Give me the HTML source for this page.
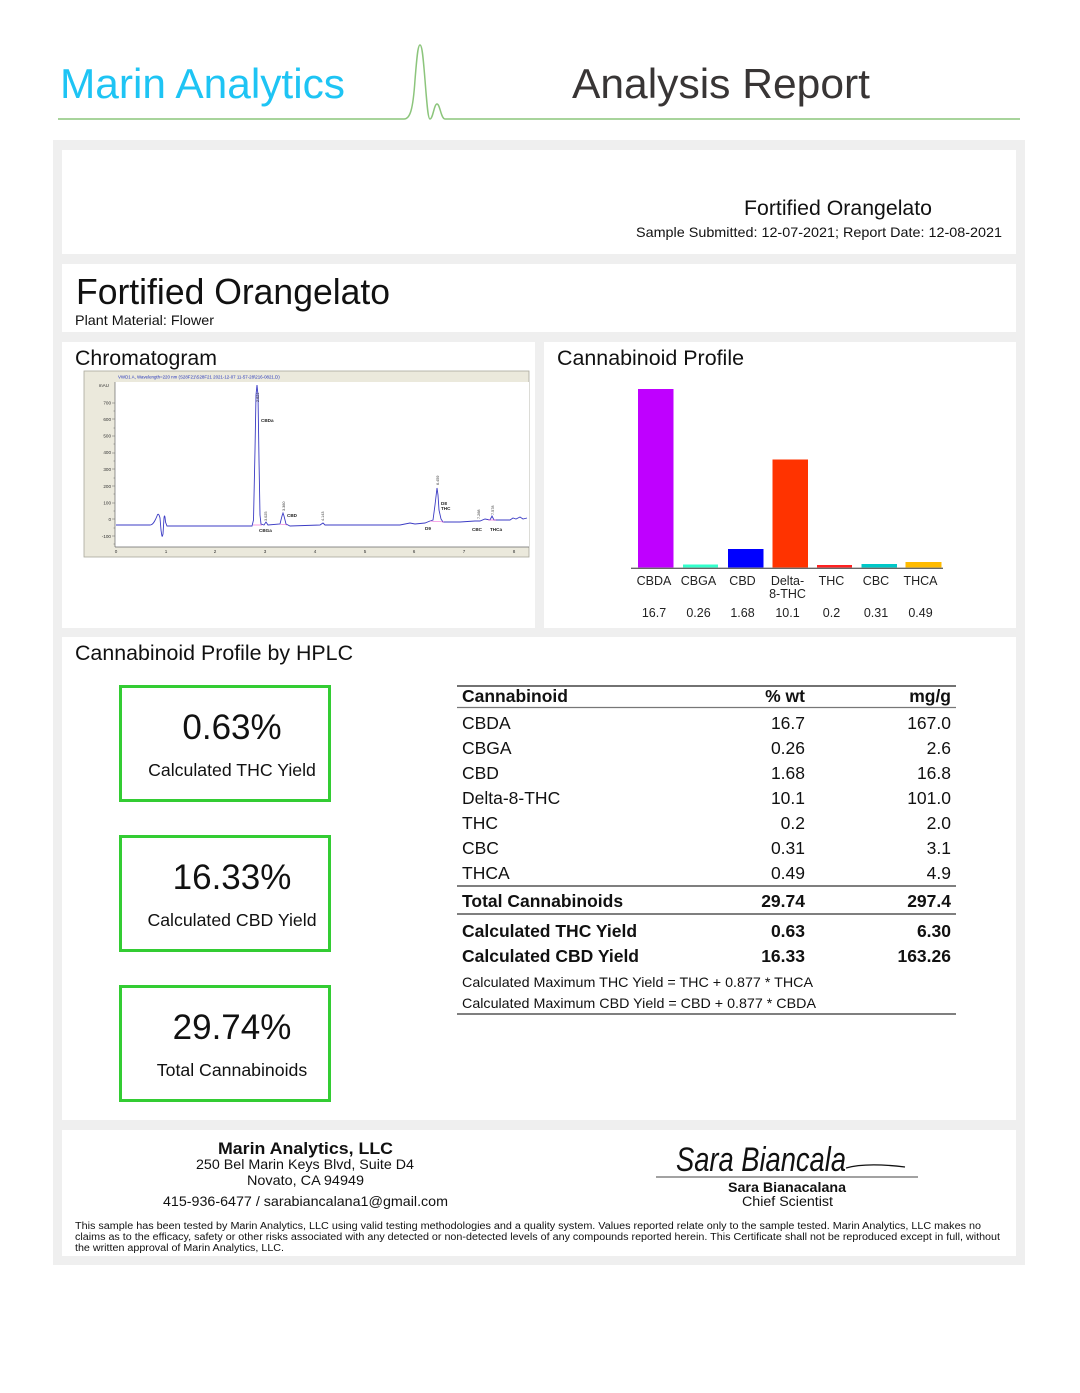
<!DOCTYPE html>
<html><head><meta charset="utf-8"><style>
html,body{margin:0;padding:0;background:#fff;}
svg{display:block;}
text{font-family:"Liberation Sans",Arial,sans-serif;}
</style></head><body>
<svg width="1080" height="1393" viewBox="0 0 1080 1393" xmlns="http://www.w3.org/2000/svg">
<rect width="1080" height="1393" fill="#fff"/>
<!-- header -->
<text x="60" y="98" font-size="42" fill="#1ec4f4" textLength="285" lengthAdjust="spacingAndGlyphs">Marin Analytics</text>
<text x="572" y="98" font-size="42" fill="#383535" textLength="298" lengthAdjust="spacingAndGlyphs">Analysis Report</text>
<path d="M58 119 L404 119 C410 119 413 110 415 80 C417 55 418 45 420 45 C422 45 423 55 425 80 C427 105 428 119 430 119 C433 119 434 104 437 104 C440 104 441 119 445 119 L1020 119" fill="none" stroke="#8cc57c" stroke-width="1.5"/>

<!-- grey background -->
<rect x="53" y="140" width="972" height="1125" fill="#efefef"/>
<rect x="62" y="150" width="954" height="104" fill="#fff"/>
<rect x="62" y="264" width="954" height="68" fill="#fff"/>
<rect x="62" y="342" width="473" height="286" fill="#fff"/>
<rect x="544" y="342" width="472" height="286" fill="#fff"/>
<rect x="62" y="637" width="954" height="483" fill="#fff"/>
<rect x="62" y="1130" width="954" height="126" fill="#fff"/>

<!-- panel 1 -->
<text x="744" y="215" font-size="21" fill="#111" textLength="188" lengthAdjust="spacingAndGlyphs">Fortified Orangelato</text>
<text x="636" y="237" font-size="14" fill="#111" textLength="366" lengthAdjust="spacingAndGlyphs">Sample Submitted: 12-07-2021;  Report Date: 12-08-2021</text>

<!-- panel 2 -->
<text x="76" y="304" font-size="36" fill="#111" textLength="314" lengthAdjust="spacingAndGlyphs">Fortified Orangelato</text>
<text x="75" y="325" font-size="14" fill="#111" textLength="139" lengthAdjust="spacingAndGlyphs">Plant Material: Flower</text>

<!-- panel 3 titles -->
<text x="75" y="365" font-size="21" fill="#111" textLength="142" lengthAdjust="spacingAndGlyphs">Chromatogram</text>
<text x="557" y="365" font-size="21" fill="#111" textLength="187" lengthAdjust="spacingAndGlyphs">Cannabinoid Profile</text>

<!-- chromatogram -->
<rect x="84" y="371" width="445" height="186" fill="#ebe9dc" stroke="#a9a79c" stroke-width="0.8"/>
<rect x="115" y="382" width="414" height="165" fill="#fff"/>
<text x="118" y="378.5" font-size="4.4" fill="#2233bb">VWD1 A, Wavelength=220 nm (S28F21\S28F21 2021-12-07 11-57-28\216-0821.D)</text>
<line x1="115" y1="382" x2="115" y2="547" stroke="#666" stroke-width="0.7"/>
<line x1="115" y1="547" x2="529" y2="547" stroke="#666" stroke-width="0.7"/>
<g font-size="4.6" fill="#333" text-anchor="end">
<text x="109" y="387">mAU</text>
<text x="111" y="404.5">700</text><text x="111" y="421">600</text><text x="111" y="437.5">500</text>
<text x="111" y="454">400</text><text x="111" y="471">300</text><text x="111" y="488">200</text>
<text x="111" y="504.5">100</text><text x="111" y="521">0</text><text x="111" y="538">-100</text>
</g>
<g stroke="#666" stroke-width="0.5">
<line x1="112" y1="403" x2="115" y2="403"/><line x1="112" y1="419" x2="115" y2="419"/><line x1="112" y1="436" x2="115" y2="436"/><line x1="112" y1="453" x2="115" y2="453"/><line x1="112" y1="469" x2="115" y2="469"/><line x1="112" y1="486" x2="115" y2="486"/><line x1="112" y1="503" x2="115" y2="503"/><line x1="112" y1="519" x2="115" y2="519"/><line x1="112" y1="536" x2="115" y2="536"/>
<line x1="113.5" y1="411" x2="115" y2="411"/><line x1="113.5" y1="428" x2="115" y2="428"/><line x1="113.5" y1="444" x2="115" y2="444"/><line x1="113.5" y1="461" x2="115" y2="461"/><line x1="113.5" y1="478" x2="115" y2="478"/><line x1="113.5" y1="494" x2="115" y2="494"/><line x1="113.5" y1="511" x2="115" y2="511"/><line x1="113.5" y1="528" x2="115" y2="528"/><line x1="113.5" y1="544" x2="115" y2="544"/>
</g>
<g font-size="4.6" fill="#333" text-anchor="middle">
<text x="116" y="553">0</text><text x="166" y="553">1</text><text x="215" y="553">2</text><text x="265" y="553">3</text><text x="315" y="553">4</text><text x="365" y="553">5</text><text x="414" y="553">6</text><text x="464" y="553">7</text><text x="514" y="553">8</text>
</g>
<path d="M116 525 L150 525 C153 525 155 521 157 516 C158 513 159 514 160 518 L161 530 C162 537 162 538 163 534 L164 518 C164.5 514 165 516 165.5 522 L167 526 L200 526 L240 526 L252 526 L253.5 520 L255 450 L256 395 L257 385 L258 395 L259 460 L260 515 L261 524 L264 525 L266 522 L268 525 L280 524 L282 516 L283 513 L284 516 L286 524 L290 526 L320 525 L323 523 L325 525 L400 525 L410 523 L415 524 L425 523 L430 521 L433 520 L435 505 L437 488 L438 495 L439 510 L441 519 L443 522 L460 522 L475 521 L480 521 L485 519 L490 520 L492 516 L494 520 L500 520 L510 520 L513 518 L516 519 L520 517 L523 519 L527 518" fill="none" stroke="#3b3bc4" stroke-width="0.9"/>
<g stroke="#ee55cc" stroke-width="0.6">
<line x1="253" y1="525" x2="262" y2="525"/><line x1="280" y1="524" x2="287" y2="525"/><line x1="430" y1="521" x2="444" y2="522"/><line x1="488" y1="520" x2="496" y2="520"/>
</g>
<g font-size="4.6" fill="#222" font-weight="bold">
<text x="261" y="422">CBDa</text>
<text x="287" y="517">CBD</text>
<text x="259" y="532">CBGa</text>
<text x="441" y="505">D8</text><text x="441" y="510">THC</text>
<text x="425" y="530">D9</text>
<text x="472" y="531">CBC</text><text x="490" y="531">THCa</text>
</g>
<g font-size="3.8" fill="#333">
<text transform="translate(259,402) rotate(-90)">2.821</text>
<text transform="translate(267,521) rotate(-90)">3.025</text>
<text transform="translate(285,511) rotate(-90)">3.360</text>
<text transform="translate(324,521) rotate(-90)">4.143</text>
<text transform="translate(439,485) rotate(-90)">6.459</text>
<text transform="translate(480,519) rotate(-90)">7.268</text>
<text transform="translate(494,515) rotate(-90)">7.578</text>
</g>

<!-- bar chart -->
<rect x="638" y="389" width="35.5" height="178.5" fill="#bf00ff"/>
<rect x="683" y="564.5" width="35" height="3" fill="#33ffcc"/>
<rect x="728" y="549" width="35.5" height="18.5" fill="#0000ff"/>
<rect x="772.5" y="459.5" width="35.5" height="108" fill="#ff3300"/>
<rect x="817" y="565" width="35" height="2.5" fill="#ff2222"/>
<rect x="861.5" y="564" width="35.5" height="3.5" fill="#00c8c8"/>
<rect x="905.5" y="562" width="36" height="5.5" fill="#ffbb00"/>
<line x1="631" y1="568.3" x2="943" y2="568.3" stroke="#666" stroke-width="1.4"/>
<g font-size="12.5" fill="#222" text-anchor="middle">
<text x="654" y="585">CBDA</text><text x="698.5" y="585">CBGA</text><text x="742.5" y="585">CBD</text>
<text x="787.5" y="585">Delta-</text><text x="787.5" y="598">8-THC</text>
<text x="831.5" y="585">THC</text><text x="876" y="585">CBC</text><text x="920.5" y="585">THCA</text>
<text x="654" y="617">16.7</text><text x="698.5" y="617">0.26</text><text x="742.5" y="617">1.68</text>
<text x="787.5" y="617">10.1</text><text x="831.5" y="617">0.2</text><text x="876" y="617">0.31</text><text x="920.5" y="617">0.49</text>
</g>

<!-- HPLC panel -->
<text x="75" y="660" font-size="21" fill="#111" textLength="278" lengthAdjust="spacingAndGlyphs">Cannabinoid Profile by HPLC</text>
<g fill="none" stroke="#33cc33" stroke-width="3">
<rect x="120.5" y="686.5" width="209" height="114"/>
<rect x="120.5" y="836.5" width="209" height="114"/>
<rect x="120.5" y="986.5" width="209" height="114"/>
</g>
<g fill="#111" text-anchor="middle">
<text x="232" y="739" font-size="35">0.63%</text>
<text x="232" y="776" font-size="17.7">Calculated THC Yield</text>
<text x="232" y="889" font-size="35">16.33%</text>
<text x="232" y="926" font-size="17.7">Calculated CBD Yield</text>
<text x="232" y="1039" font-size="35">29.74%</text>
<text x="232" y="1076" font-size="17.7">Total Cannabinoids</text>
</g>

<!-- table -->
<line x1="457" y1="686" x2="956" y2="686" stroke="#444" stroke-width="1.6"/>
<line x1="457" y1="707.5" x2="956" y2="707.5" stroke="#777" stroke-width="1.3"/>
<line x1="457" y1="886" x2="956" y2="886" stroke="#555" stroke-width="1.4"/>
<line x1="457" y1="914" x2="956" y2="914" stroke="#555" stroke-width="1.4"/>
<line x1="457" y1="1014" x2="956" y2="1014" stroke="#555" stroke-width="1.4"/>
<g font-size="17.5" fill="#111">
<text x="462" y="702" font-weight="bold">Cannabinoid</text>
<text x="805" y="702" font-weight="bold" text-anchor="end">% wt</text>
<text x="951" y="702" font-weight="bold" text-anchor="end">mg/g</text>
<text x="462" y="729">CBDA</text><text x="805" y="729" text-anchor="end">16.7</text><text x="951" y="729" text-anchor="end">167.0</text>
<text x="462" y="754">CBGA</text><text x="805" y="754" text-anchor="end">0.26</text><text x="951" y="754" text-anchor="end">2.6</text>
<text x="462" y="779">CBD</text><text x="805" y="779" text-anchor="end">1.68</text><text x="951" y="779" text-anchor="end">16.8</text>
<text x="462" y="804">Delta-8-THC</text><text x="805" y="804" text-anchor="end">10.1</text><text x="951" y="804" text-anchor="end">101.0</text>
<text x="462" y="829">THC</text><text x="805" y="829" text-anchor="end">0.2</text><text x="951" y="829" text-anchor="end">2.0</text>
<text x="462" y="854">CBC</text><text x="805" y="854" text-anchor="end">0.31</text><text x="951" y="854" text-anchor="end">3.1</text>
<text x="462" y="879">THCA</text><text x="805" y="879" text-anchor="end">0.49</text><text x="951" y="879" text-anchor="end">4.9</text>
<text x="462" y="907" font-weight="bold">Total Cannabinoids</text><text x="805" y="907" text-anchor="end" font-weight="bold">29.74</text><text x="951" y="907" text-anchor="end" font-weight="bold">297.4</text>
<text x="462" y="937" font-weight="bold">Calculated THC Yield</text><text x="805" y="937" text-anchor="end" font-weight="bold">0.63</text><text x="951" y="937" text-anchor="end" font-weight="bold">6.30</text>
<text x="462" y="962" font-weight="bold">Calculated CBD Yield</text><text x="805" y="962" text-anchor="end" font-weight="bold">16.33</text><text x="951" y="962" text-anchor="end" font-weight="bold">163.26</text>
</g>
<text x="462" y="987" font-size="14" fill="#111" textLength="351" lengthAdjust="spacingAndGlyphs">Calculated Maximum THC Yield = THC + 0.877 * THCA</text>
<text x="462" y="1008" font-size="14" fill="#111" textLength="354" lengthAdjust="spacingAndGlyphs">Calculated Maximum CBD Yield = CBD + 0.877 * CBDA</text>

<!-- footer -->
<text x="218" y="1154" font-size="17" font-weight="bold" fill="#111" textLength="175" lengthAdjust="spacingAndGlyphs">Marin Analytics, LLC</text>
<text x="196" y="1169" font-size="14" fill="#111" textLength="218" lengthAdjust="spacingAndGlyphs">250 Bel Marin Keys Blvd, Suite D4</text>
<text x="247" y="1185" font-size="14" fill="#111" textLength="117" lengthAdjust="spacingAndGlyphs">Novato, CA 94949</text>
<text x="163" y="1206" font-size="14" fill="#111" textLength="285" lengthAdjust="spacingAndGlyphs">415-936-6477 / sarabiancalana1@gmail.com</text>

<text x="676" y="1171" font-size="34" font-style="italic" font-family="Liberation Serif, serif" fill="#111" textLength="170" lengthAdjust="spacingAndGlyphs">Sara Biancala</text>
<path d="M846 1168 C860 1164 880 1164 905 1167" fill="none" stroke="#111" stroke-width="1.3"/>
<line x1="656" y1="1177" x2="918" y2="1177" stroke="#444" stroke-width="1"/>
<text x="728" y="1192" font-size="13.5" font-weight="bold" fill="#111" textLength="118" lengthAdjust="spacingAndGlyphs">Sara Bianacalana</text>
<text x="742" y="1206" font-size="13.5" fill="#111" textLength="91" lengthAdjust="spacingAndGlyphs">Chief Scientist</text>

<g font-size="10" fill="#111">
<text x="75" y="1229" textLength="906" lengthAdjust="spacingAndGlyphs">This sample has been tested by Marin Analytics, LLC using valid testing methodologies and a quality system.  Values reported relate only to the sample tested.  Marin Analytics, LLC makes no</text>
<text x="75" y="1240" textLength="925" lengthAdjust="spacingAndGlyphs">claims as to the efficacy, safety or other risks associated with any detected or non-detected levels of any compounds reported herein.  This Certificate shall not be reproduced except in full, without</text>
<text x="75" y="1251" textLength="209" lengthAdjust="spacingAndGlyphs">the written approval of Marin Analytics, LLC.</text>
</g>
</svg>
</body></html>
